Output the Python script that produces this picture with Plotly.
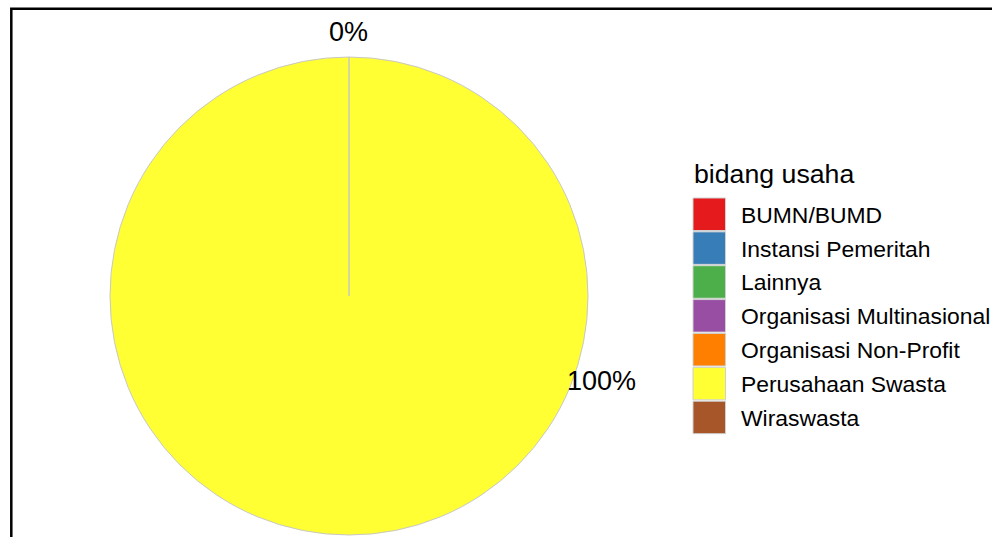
import plotly.graph_objects as go

W, H = 992, 537

categories = ["BUMN/BUMD", "Instansi Pemeritah", "Lainnya", "Organisasi Multinasional",
              "Organisasi Non-Profit", "Perusahaan Swasta", "Wiraswasta"]
percent_values = [0, 0, 0, 0, 0, 100, 0]
colors = ["#E41A1C", "#377EB8", "#4DAF4A", "#984EA3", "#FF7F00", "#FFFF33", "#A65628"]
legend_title = "bidang usaha"

FONT = "Liberation Sans, Arial, sans-serif"

def px(x):
    return x / W

def py(y):
    return 1 - y / H

# pie geometry (pixels)
cx, cy, r = 349, 296, 239

fig = go.Figure(go.Pie(
    labels=categories,
    values=percent_values,
    marker=dict(colors=colors, line=dict(color="#c8c8c8", width=1)),
    sort=False,
    direction="clockwise",
    rotation=0,
    textinfo="none",
    showlegend=False,
    domain=dict(x=[px(cx - r), px(cx + r)], y=[py(cy + r), py(cy - r)]),
))

shapes = []
annotations = []

# outer frame (top and left edges visible)
shapes.append(dict(type="rect", xref="paper", yref="paper",
                   x0=px(11.3), x1=1.2, y0=-0.2, y1=py(8.7),
                   line=dict(color="black", width=2.5), fillcolor="rgba(0,0,0,0)",
                   layer="above"))

# percentage labels
zero_label = f"{min(percent_values):.0f}%"
full_label = f"{max(percent_values):.0f}%"
annotations.append(dict(text=zero_label, x=px(348), y=py(32), xref="paper", yref="paper",
                        showarrow=False, xanchor="center", yanchor="middle",
                        font=dict(family=FONT, size=27, color="black")))
annotations.append(dict(text=full_label, x=px(601.5), y=py(380.5), xref="paper", yref="paper",
                        showarrow=False, xanchor="center", yanchor="middle",
                        font=dict(family=FONT, size=27, color="black")))

# manual legend
annotations.append(dict(text=legend_title, x=px(692), y=py(174), xref="paper", yref="paper",
                        showarrow=False, xanchor="left", yanchor="middle",
                        font=dict(family=FONT, size=26.7, color="black")))
top0, pitch, sq = 198, 33.86, 32.5
for i, (cat, col) in enumerate(zip(categories, colors)):
    y0 = top0 + i * pitch
    shapes.append(dict(type="rect", xref="paper", yref="paper",
                       x0=px(693), x1=px(725.5), y0=py(y0 + sq), y1=py(y0),
                       fillcolor=col, line=dict(color="#d0d0d0", width=1)))
    annotations.append(dict(text=cat, x=px(739), y=py(y0 + sq / 2 + 0.5), xref="paper", yref="paper",
                            showarrow=False, xanchor="left", yanchor="middle",
                            font=dict(family=FONT, size=22.9, color="black")))

fig.update_layout(
    width=W, height=H,
    margin=dict(l=0, r=0, t=0, b=0),
    paper_bgcolor="white",
    plot_bgcolor="white",
    shapes=shapes,
    annotations=annotations,
    showlegend=False,
)

fig.write_html("out.html",
               config={"displayModeBar": False},
               post_script="document.body.style.margin='0px';document.body.style.overflow='hidden';")
